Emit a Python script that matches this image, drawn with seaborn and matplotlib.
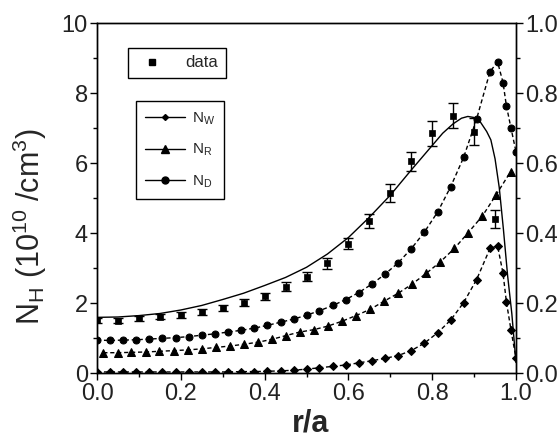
import matplotlib
matplotlib.use('Agg')
import matplotlib.pyplot as plt
import seaborn as sns
from matplotlib.lines import Line2D
from matplotlib.ticker import MultipleLocator, FormatStrFormatter

# ---------------- data ----------------
r_data = [0.00, 0.05, 0.10, 0.15, 0.20, 0.25, 0.30, 0.35, 0.40, 0.45,
          0.50, 0.55, 0.60, 0.65, 0.70, 0.75, 0.80, 0.85, 0.90, 0.95]
n_data = [1.51, 1.50, 1.56, 1.61, 1.66, 1.75, 1.85, 2.01, 2.20, 2.47,
          2.75, 3.13, 3.70, 4.35, 5.15, 6.05, 6.85, 7.35, 6.90, 4.40]
n_err = [0.07, 0.07, 0.07, 0.08, 0.08, 0.09, 0.09, 0.10, 0.10, 0.13,
         0.13, 0.15, 0.17, 0.20, 0.25, 0.27, 0.35, 0.36, 0.38, 0.25]

r_fit = [0.00, 0.05, 0.10, 0.15, 0.20, 0.25, 0.30, 0.35, 0.40, 0.45,
         0.50, 0.55, 0.60, 0.65, 0.70, 0.75, 0.80, 0.825, 0.85, 0.87,
         0.885, 0.90, 0.915, 0.93, 0.94, 0.95, 0.96, 0.97, 0.98, 0.99, 1.00]
n_fit = [1.59, 1.60, 1.64, 1.70, 1.80, 1.93, 2.10, 2.28, 2.50, 2.73,
         3.02, 3.40, 3.87, 4.45, 5.08, 5.80, 6.50, 6.85, 7.12, 7.28,
         7.33, 7.30, 7.17, 6.90, 6.66, 6.12, 5.30, 4.10, 2.78, 1.70, 0.30]

r_profile = [0.000, 0.031, 0.063, 0.094, 0.125, 0.156, 0.188, 0.219, 0.250, 0.281,
             0.313, 0.344, 0.375, 0.406, 0.438, 0.469, 0.500, 0.531, 0.563, 0.594,
             0.625, 0.656, 0.688, 0.719, 0.750, 0.781, 0.813, 0.844, 0.875, 0.906,
             0.938, 0.956, 0.969, 0.977, 0.988, 1.000]
n_w = [0.94, 0.93, 0.94, 0.95, 0.97, 0.99, 1.01, 1.04, 1.08, 1.12,
       1.17, 1.22, 1.28, 1.36, 1.45, 1.54, 1.65, 1.78, 1.93, 2.10,
       2.30, 2.54, 2.83, 3.15, 3.55, 4.02, 4.60, 5.32, 6.16, 7.26,
       8.61, 8.89, 8.30, 7.64, 7.00, 6.32]
n_d = [0.03, 0.03, 0.03, 0.03, 0.03, 0.03, 0.03, 0.03, 0.03, 0.03,
       0.03, 0.04, 0.04, 0.05, 0.06, 0.08, 0.11, 0.15, 0.19, 0.23,
       0.29, 0.35, 0.42, 0.50, 0.64, 0.85, 1.15, 1.51, 2.01, 2.67,
       3.56, 3.63, 2.85, 2.04, 1.23, 0.42]

r_r = [0.015, 0.049, 0.082, 0.116, 0.149, 0.183, 0.216, 0.250, 0.283, 0.317,
       0.350, 0.384, 0.417, 0.451, 0.484, 0.518, 0.551, 0.585, 0.618, 0.652,
       0.685, 0.719, 0.752, 0.786, 0.819, 0.853, 0.886, 0.920, 0.953, 0.987]
n_r = [0.58, 0.58, 0.59, 0.60, 0.62, 0.64, 0.66, 0.69, 0.73, 0.77,
       0.82, 0.88, 0.96, 1.07, 1.17, 1.24, 1.34, 1.48, 1.64, 1.82,
       2.05, 2.28, 2.54, 2.85, 3.17, 3.56, 4.01, 4.49, 5.10, 5.75]

legend_labels = [r'N$_\mathrm{W}$', r'N$_\mathrm{R}$', r'N$_\mathrm{D}$']
x_ticks = [0.0, 0.2, 0.4, 0.6, 0.8, 1.0]
y_ticks = [0, 2, 4, 6, 8, 10]
y2_ticks = [0.0, 0.2, 0.4, 0.6, 0.8, 1.0]

# ---------------- style ----------------
sns.set_theme(style='ticks')
plt.rcParams['font.family'] = ['Liberation Sans', 'DejaVu Sans']
plt.rcParams['mathtext.fontset'] = 'custom'
plt.rcParams['mathtext.rm'] = 'Liberation Sans'
plt.rcParams['mathtext.it'] = 'Liberation Sans:italic'
plt.rcParams['mathtext.bf'] = 'Liberation Sans:bold'

fig = plt.figure(figsize=(5.58, 4.37), dpi=100)
fig.patch.set_facecolor('white')
ax = fig.add_axes([97 / 558, 1 - 373 / 437, 419 / 558, 350 / 437])
ax.set_facecolor('white')

dash = (0, (3.0, 2.0))
sns.lineplot(x=r_fit, y=n_fit, ax=ax, color='black', lw=1.0, sort=False, estimator=None)
sns.lineplot(x=r_profile, y=n_w, ax=ax, color='black', lw=1.0, sort=False, estimator=None,
             linestyle=dash, marker='o', markersize=5, mec='black', mfc='black')
sns.lineplot(x=r_r, y=n_r, ax=ax, color='black', lw=1.0, sort=False, estimator=None,
             linestyle=dash, marker='^', markersize=6, mec='black', mfc='black')
sns.lineplot(x=r_profile, y=n_d, ax=ax, color='black', lw=1.0, sort=False, estimator=None,
             linestyle=dash, marker='D', markersize=4.5, mec='black', mfc='black')

ax.errorbar(r_data, n_data, yerr=n_err, fmt='none', ecolor='black',
            elinewidth=1.0, capsize=3.5, capthick=1.0, zorder=4)
sns.scatterplot(x=r_data, y=n_data, ax=ax, marker='s', s=18, color='black',
                edgecolor='black', linewidth=0.5, zorder=5)

ax.set_xlim(0, 1.0)
ax.set_ylim(0, 10)
ax.set_xticks(x_ticks)
ax.set_yticks(y_ticks)
ax.xaxis.set_minor_locator(MultipleLocator(0.1))
ax.yaxis.set_minor_locator(MultipleLocator(1))
ax.xaxis.set_major_formatter(FormatStrFormatter('%.1f'))
ax.yaxis.set_major_formatter(FormatStrFormatter('%d'))

for s in ax.spines.values():
    s.set_color('black')
    s.set_linewidth(1.0)

ax.tick_params(axis='both', which='major', direction='out', length=5, width=1,
               color='black', labelsize=17, labelcolor='#222222', pad=1.5)
ax.tick_params(axis='both', which='minor', direction='out', length=3, width=1, color='black')
ax.tick_params(axis='x', which='major', pad=2.5)

ax2 = ax.twinx()
ax2.set_ylim(0, 1.0)
ax2.set_yticks(y2_ticks)
ax2.yaxis.set_minor_locator(MultipleLocator(0.1))
ax2.yaxis.set_major_formatter(FormatStrFormatter('%.1f'))
for s in ax2.spines.values():
    s.set_color('black')
    s.set_linewidth(1.0)
ax2.tick_params(axis='y', which='major', direction='out', length=5, width=1,
                color='black', labelsize=17, labelcolor='#222222', pad=1.5)
ax2.tick_params(axis='y', which='minor', direction='out', length=3, width=1, color='black')

ax.set_xlabel('r/a', fontsize=22, fontweight='bold')
ax.xaxis.set_label_coords(0.51, -0.100)
ax.set_ylabel(r'N$_\mathrm{H}$ (10$^{10}$ /cm$^3$)', fontsize=22)
ax.yaxis.set_label_coords(-0.115, 0.42)

# legends
h_data = Line2D([], [], ls='none', marker='s', ms=4, color='black')
leg1 = ax.legend([h_data], ['data'], loc='upper left', bbox_to_anchor=(0.074, 0.929),
                 borderaxespad=0, frameon=True, fancybox=False, edgecolor='black',
                 framealpha=1, fontsize=12, handlelength=2.0, handletextpad=1.0,
                 borderpad=0.45)
leg1.get_frame().set_linewidth(1.0)
ax.add_artist(leg1)

handles2 = [Line2D([], [], color='black', lw=1.0, marker='D', ms=3),
            Line2D([], [], color='black', lw=1.0, marker='^', ms=6),
            Line2D([], [], color='black', lw=1.0, marker='o', ms=5)]
leg2 = ax.legend(handles2, legend_labels, loc='upper left', bbox_to_anchor=(0.093, 0.777),
                 borderaxespad=0, frameon=True, fancybox=False, edgecolor='black',
                 framealpha=1, fontsize=11, handlelength=2.6, handletextpad=0.45,
                 borderpad=0.6, labelspacing=1.0)
leg2.get_frame().set_linewidth(1.0)

fig.savefig('out.png', dpi=100, facecolor='white')
